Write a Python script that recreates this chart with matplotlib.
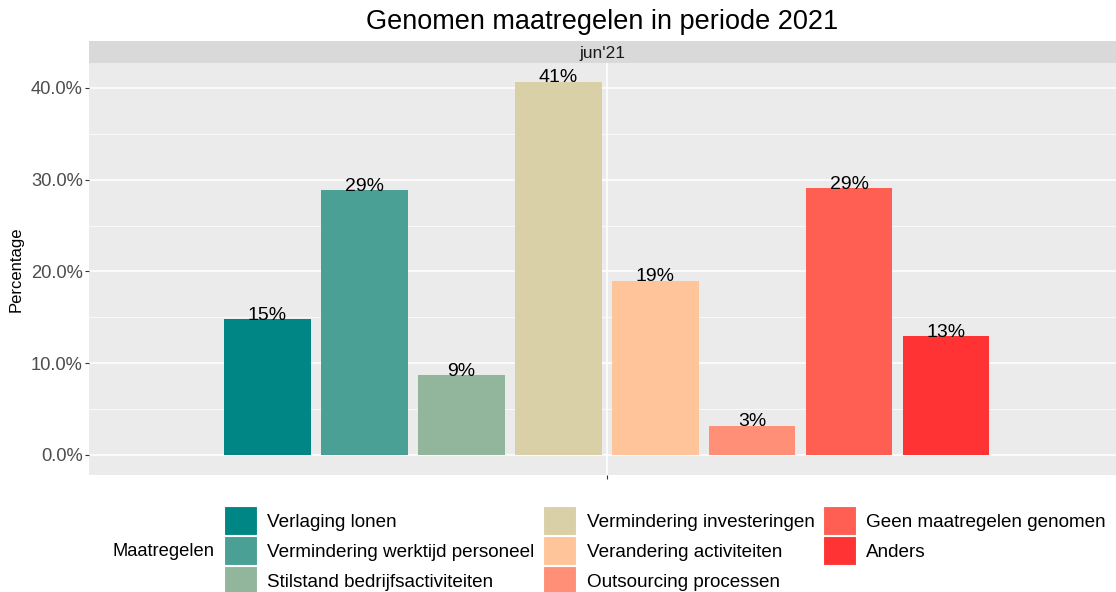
import numpy as np
import matplotlib.pyplot as plt
from matplotlib.patches import Patch
from matplotlib.ticker import FuncFormatter, MultipleLocator

plt.rcParams['font.family'] = ['Liberation Sans', 'DejaVu Sans']

maatregelen = ["Verlaging lonen", "Vermindering werktijd personeel", "Stilstand bedrijfsactiviteiten",
               "Vermindering investeringen", "Verandering activiteiten", "Outsourcing processen",
               "Geen maatregelen genomen", "Anders"]
percentage = [0.148, 0.289, 0.087, 0.407, 0.190, 0.032, 0.291, 0.130]
labels = ["15%", "29%", "9%", "41%", "19%", "3%", "29%", "13%"]
kleuren = ["#008785", "#4AA094", "#91B69B", "#D9D0A7", "#FFC49A", "#FF8F76", "#FF5F52", "#FF3333"]
periode = "jun'21"

W, H = 1116, 592
fig = plt.figure(figsize=(W / 100, H / 100), dpi=100)

# panel + strip (pixel positions from the reference)
px_l, px_r, px_t, px_b = 89, 1116, 63, 475
ax = fig.add_axes([px_l / W, 1 - px_b / H, (px_r - px_l) / W, (px_b - px_t) / H])
strip = fig.add_axes([px_l / W, 1 - px_t / H, (px_r - px_l) / W, 22 / H])

n = len(maatregelen)
x = np.arange(n) - (n - 1) / 2
ax.set_facecolor("#EBEBEB")
ax.bar(x, percentage, width=0.89, color=kleuren, zorder=2)
for xi, v, lab in zip(x, percentage, labels):
    ax.text(xi, v + 0.004, lab, ha="center", va="center", fontsize=14, color="black", zorder=3)

ax.set_xlim(-5.34, 5.25)
ax.set_ylim(-0.0218, 0.4272)
ax.yaxis.set_major_locator(MultipleLocator(0.1))
ax.yaxis.set_minor_locator(MultipleLocator(0.05))
ax.yaxis.set_major_formatter(FuncFormatter(lambda v, p: f"{v * 100:.1f}%"))
ax.set_xticks([0])
ax.set_xticklabels([""])
ax.grid(which="major", color="white", linewidth=1.1, zorder=0)
ax.grid(which="minor", axis="y", color="white", linewidth=0.5, zorder=0)
ax.tick_params(axis="both", which="major", length=3, pad=1.5, color="#333333",
               labelsize=13.2, labelcolor="#4D4D4D")
ax.tick_params(axis="y", which="minor", length=0)
for s in ax.spines.values():
    s.set_visible(False)
ax.set_ylabel("Percentage", fontsize=12, color="black", labelpad=5)

strip.set_facecolor("#D9D9D9")
strip.set_xticks([])
strip.set_yticks([])
for s in strip.spines.values():
    s.set_visible(False)
strip.text(0.5, 0.45, periode, ha="center", va="center", fontsize=12.4, color="#1A1A1A",
           transform=strip.transAxes)

fig.text((px_l + px_r) / 2 / W, 1 - 22 / H, "Genomen maatregelen in periode 2021",
         ha="center", va="center", fontsize=19.5, color="black")

# legend
handles = [Patch(facecolor=c, edgecolor="white", linewidth=0.8) for c in kleuren]
fig.legend(handles, maatregelen, ncol=3, loc="upper left", bbox_to_anchor=(224 / W, 1 - 506 / H),
           frameon=False, fontsize=13.6, handlelength=1.75, handleheight=2.0, labelspacing=0.05,
           handletextpad=0.55, columnspacing=0.45, borderpad=0, borderaxespad=0)
fig.text(112 / W, 1 - 552 / H, "Maatregelen", ha="left", va="center", fontsize=13.2, color="black")

fig.savefig("out.png", dpi=100)
